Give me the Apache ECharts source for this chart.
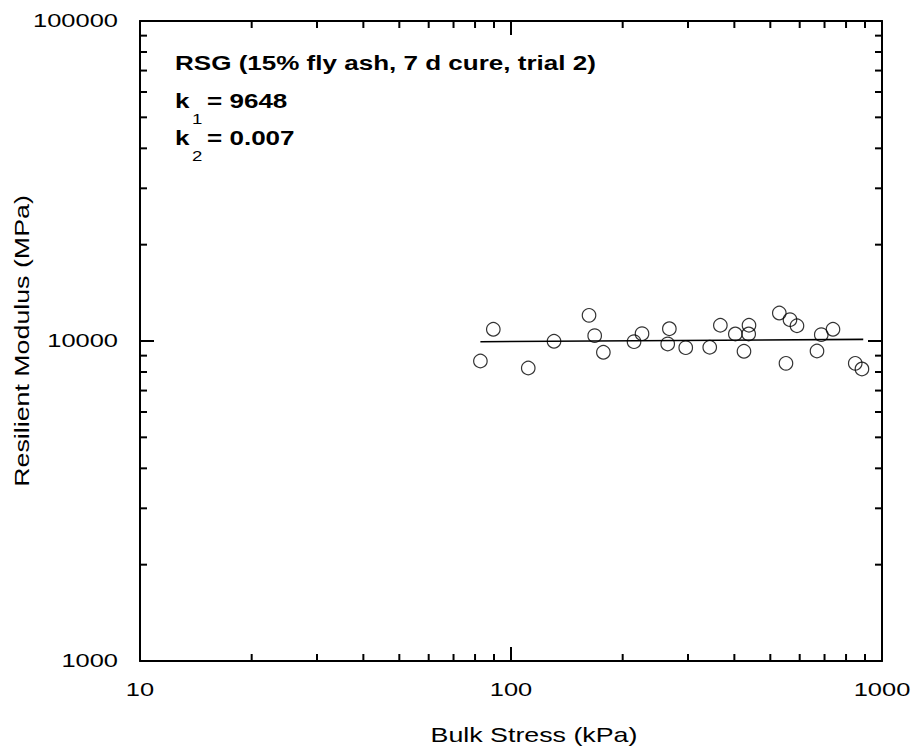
<!DOCTYPE html>
<html><head><meta charset="utf-8">
<script src="https://cdn.jsdelivr.net/npm/echarts@6/dist/echarts.min.js"></script>
<style>html,body{margin:0;padding:0;background:#fff}#c{width:915px;height:755px}</style>
</head><body><div id="c"></div><script>
// ---- data ----
const bulkStress = [82.7, 89.6, 111.3, 130.6, 162.3, 168.1, 177.4, 214.6, 225.5, 264.5, 267.2, 295.8, 343.3, 366.7, 402.4, 424.6, 438.0, 437.2, 528.7, 551, 564.9, 590, 668, 686, 737.7, 847, 883];
const modulus    = [8660, 10880, 8234, 9979, 12030, 10390, 9220, 9950, 10540, 9790, 10925, 9530, 9560, 11200, 10520, 9286, 11200, 10520, 12230, 8517, 11660, 11160, 9306, 10465, 10880, 8517, 8176];
const fitStress  = [82.7, 890];
const fitModulus = [9950, 10120];
const xMajorTicks = [10, 100, 1000];
const yMajorTicks = [1000, 10000, 100000];
const xMinorTicks = [20, 30, 40, 50, 60, 70, 80, 90, 200, 300, 400, 500, 600, 700, 800, 900];
const yMinorTicks = [2000, 3000, 4000, 5000, 6000, 7000, 8000, 9000, 20000, 30000, 40000, 50000, 60000, 70000, 80000, 90000];
const xTitle = 'Bulk Stress (kPa)';
const yTitle = 'Resilient Modulus (MPa)';
const noteTitle = 'RSG (15% fly ash, 7 d cure, trial 2)';
const k1Value = '9648';
const k2Value = '0.007';

const FONT = '"Liberation Sans", Arial, Helvetica, sans-serif';
const SX = 1.34;
const xMin = xMajorTicks[0], xMax = xMajorTicks[xMajorTicks.length - 1];
const yMin = yMajorTicks[0], yMax = yMajorTicks[yMajorTicks.length - 1];

function logAxis(pos, min, max) {
  return {
    type: 'log', logBase: 10, min: min, max: max, position: pos,
    axisLine: { show: true, onZero: false, lineStyle: { color: '#000', width: 2 } },
    axisTick: { show: true, inside: true, length: 14, lineStyle: { color: '#000', width: 2 } },
    axisLabel: { show: false },
    splitLine: { show: false },
    minorTick: { show: false }
  };
}

const chart = echarts.init(document.getElementById('c'), null, { renderer: 'svg' });
const option = {
  animation: false,
  backgroundColor: '#fff',
  grid: { left: 140, top: 21, right: 33, bottom: 94 },
  xAxis: [logAxis('bottom', xMin, xMax), logAxis('top', xMin, xMax)],
  yAxis: [logAxis('left', yMin, yMax), logAxis('right', yMin, yMax)],
  series: [
    {
      type: 'line', xAxisIndex: 0, yAxisIndex: 0,
      data: fitStress.map((x, i) => [x, fitModulus[i]]),
      symbol: 'none', showSymbol: false,
      lineStyle: { color: '#000', width: 1.6 }, z: 2, silent: true
    },
    {
      type: 'scatter', xAxisIndex: 0, yAxisIndex: 0,
      data: bulkStress.map((x, i) => [x, modulus[i]]),
      symbol: 'circle', symbolSize: 13.5,
      itemStyle: { color: 'rgba(0,0,0,0)', borderColor: '#000', borderWidth: 1.2 }, z: 3
    },
    {
      type: 'custom', coordinateSystem: 'cartesian2d', xAxisIndex: 0, yAxisIndex: 0, clip: false, silent: true,
      data: xMinorTicks.map(v => [v, yMin]),
      renderItem: function (params, api) {
        const b = api.coord([api.value(0), yMin]);
        const t = api.coord([api.value(0), yMax]);
        const st = { stroke: '#000', lineWidth: 2 };
        return { type: 'group', children: [
          { type: 'line', shape: { x1: b[0], y1: b[1], x2: b[0], y2: b[1] - 7 }, style: st },
          { type: 'line', shape: { x1: t[0], y1: t[1], x2: t[0], y2: t[1] + 7 }, style: st }
        ] };
      }
    },
    {
      type: 'custom', coordinateSystem: 'cartesian2d', xAxisIndex: 0, yAxisIndex: 0, clip: false, silent: true,
      data: yMinorTicks.map(v => [xMin, v]),
      renderItem: function (params, api) {
        const l = api.coord([xMin, api.value(1)]);
        const r = api.coord([xMax, api.value(1)]);
        const st = { stroke: '#000', lineWidth: 2 };
        return { type: 'group', children: [
          { type: 'line', shape: { x1: l[0], y1: l[1], x2: l[0] + 7, y2: l[1] }, style: st },
          { type: 'line', shape: { x1: r[0], y1: r[1], x2: r[0] - 7, y2: r[1] }, style: st }
        ] };
      }
    },
    {
      type: 'custom', coordinateSystem: 'cartesian2d', xAxisIndex: 0, yAxisIndex: 0, clip: false, silent: true,
      data: xMajorTicks.map(v => [v, yMin]),
      renderItem: function (params, api) {
        const c = api.coord([api.value(0), yMin]);
        return { type: 'text', x: c[0], y: c[1] + 29, scaleX: SX,
          style: { text: String(api.value(0)), fontFamily: FONT, fontSize: 19, fill: '#000', align: 'center', verticalAlign: 'middle' } };
      }
    },
    {
      type: 'custom', coordinateSystem: 'cartesian2d', xAxisIndex: 0, yAxisIndex: 0, clip: false, silent: true,
      data: yMajorTicks.map(v => [xMin, v]),
      renderItem: function (params, api) {
        const c = api.coord([xMin, api.value(1)]);
        return { type: 'text', x: c[0] - 22, y: c[1], scaleX: SX,
          style: { text: String(api.value(1)), fontFamily: FONT, fontSize: 19, fill: '#000', align: 'right', verticalAlign: 'middle' } };
      }
    }
  ],
  graphic: [
    { type: 'text', x: 534, y: 735, scaleX: SX, style: { text: xTitle, fontFamily: FONT, fontSize: 20, fill: '#000', align: 'center', verticalAlign: 'middle' } },
    { type: 'text', x: 22, y: 341, rotation: Math.PI / 2, scaleX: SX, style: { text: yTitle, fontFamily: FONT, fontSize: 20, fill: '#000', align: 'center', verticalAlign: 'middle' } },
    { type: 'text', x: 175, y: 63, scaleX: 1.24, style: { text: noteTitle, fontFamily: FONT, fontWeight: 'bold', fontSize: 21, fill: '#000', align: 'left', verticalAlign: 'middle' } },
    { type: 'text', x: 175, y: 100.5, scaleX: 1.24, style: { text: 'k', fontFamily: FONT, fontWeight: 'bold', fontSize: 21, fill: '#000', align: 'left', verticalAlign: 'middle' } },
    { type: 'text', x: 192, y: 119, scaleX: 1.24, style: { text: '1', fontFamily: FONT, fontSize: 15, fill: '#000', align: 'left', verticalAlign: 'middle' } },
    { type: 'text', x: 207, y: 100.5, scaleX: 1.24, style: { text: '= ' + k1Value, fontFamily: FONT, fontWeight: 'bold', fontSize: 21, fill: '#000', align: 'left', verticalAlign: 'middle' } },
    { type: 'text', x: 175, y: 137.5, scaleX: 1.24, style: { text: 'k', fontFamily: FONT, fontWeight: 'bold', fontSize: 21, fill: '#000', align: 'left', verticalAlign: 'middle' } },
    { type: 'text', x: 192, y: 156, scaleX: 1.24, style: { text: '2', fontFamily: FONT, fontSize: 15, fill: '#000', align: 'left', verticalAlign: 'middle' } },
    { type: 'text', x: 207, y: 137.5, scaleX: 1.24, style: { text: '= ' + k2Value, fontFamily: FONT, fontWeight: 'bold', fontSize: 21, fill: '#000', align: 'left', verticalAlign: 'middle' } }
  ]
};
chart.setOption(option);
</script></body></html>
